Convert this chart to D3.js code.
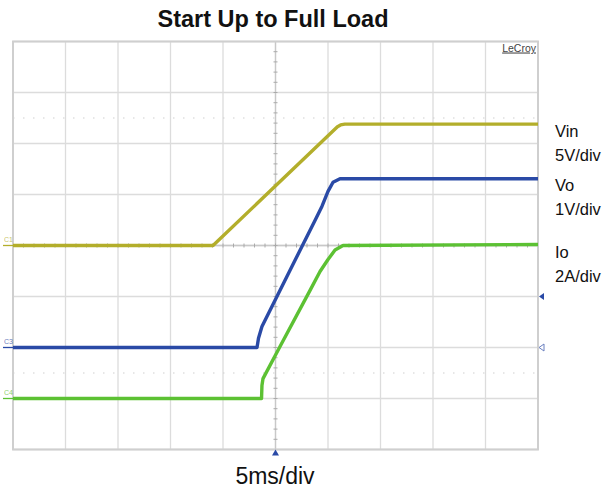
<!DOCTYPE html>
<html><head><meta charset="utf-8">
<script src="https://cdn.jsdelivr.net/npm/d3@7"></script>
<style>body{margin:0;background:#fff;}svg{display:block;font-family:"Liberation Sans",Arial,sans-serif;}</style>
</head><body>
<script>
// time in ms (5 ms/div, 10 div, trigger at centre)
const vinT = [-25, -5.95, 5.55, 5.9, 6.2, 6.6, 25];
const vinV = [0, 0, 11.3, 11.65, 11.82, 11.9, 11.9];      // V, 5 V/div, offset 0 div
const voT  = [-25, -1.76, -1.62, -1.29, 1.86, 3.76, 4.43, 5.0, 5.48, 6.14, 25];
const voV  = [0, 0, 0.18, 0.41, 1.71, 2.49, 2.77, 3.06, 3.24, 3.31, 3.31]; // V, 1 V/div, offset -2 div
const ioT  = [-25, -1.33, -1.29, -1.19, 0.43, 3.29, 4.24, 5.0, 5.67, 6.43, 25];
const ioA  = [0, 0, 0.51, 0.78, 2.04, 4.24, 4.98, 5.45, 5.82, 6.0, 6.04];  // A, 2 A/div, offset -3 div
const traces = [
  {name:"Vin", unit:"5V/div", perDiv:5, offset:0,  t:vinT, v:vinV, color:"#b3ae2b", tag:"C1"},
  {name:"Vo",  unit:"1V/div", perDiv:1, offset:-2, t:voT,  v:voV,  color:"#2a4aa6", tag:"C3"},
  {name:"Io",  unit:"2A/div", perDiv:2, offset:-3, t:ioT,  v:ioA,  color:"#5cc133", tag:"C4"}
];
const labelDivs = [2.12, 1.06, -0.24]; // label positions in divisions

const W = 607, H = 492;
const L = 13, R = 538, T = 41.5, B = 449.5;
const svg = d3.select("body").append("svg").attr("width", W).attr("height", H);
const x = d3.scaleLinear().domain([-25, 25]).range([L, R]);
const y = d3.scaleLinear().domain([-4, 4]).range([B, T]);

// grid
const g = svg.append("g");
d3.range(-25, 26, 5).forEach(t => g.append("line").attr("x1", x(t)).attr("x2", x(t)).attr("y1", T).attr("y2", B)
  .attr("stroke", "#dcdcdc").attr("stroke-width", 1.3));
d3.range(-4, 5, 1).forEach(d => g.append("line").attr("x1", L).attr("x2", R).attr("y1", y(d)).attr("y2", y(d))
  .attr("stroke", "#dcdcdc").attr("stroke-width", 1.3));
// dotted lines
[2.5, -2.5].forEach(d => g.append("line").attr("x1", L).attr("x2", R).attr("y1", y(d)).attr("y2", y(d))
  .attr("stroke", "#cfcfcf").attr("stroke-width", 1.2).attr("stroke-dasharray", "1.5,8.5"));
// centre axes with minor ticks
g.append("line").attr("x1", x(0)).attr("x2", x(0)).attr("y1", T).attr("y2", B).attr("stroke", "#c8c8c8").attr("stroke-width", 1.3);
g.append("line").attr("x1", L).attr("x2", R).attr("y1", y(0)).attr("y2", y(0)).attr("stroke", "#c8c8c8").attr("stroke-width", 1.3);
d3.range(-25, 25.01, 1).forEach(t => g.append("line").attr("x1", x(t)).attr("x2", x(t)).attr("y1", y(0) - 2).attr("y2", y(0) + 2).attr("stroke", "#aaa"));
d3.range(-4, 4.01, 0.2).forEach(d => g.append("line").attr("x1", x(0) - 2).attr("x2", x(0) + 2).attr("y1", y(d)).attr("y2", y(d)).attr("stroke", "#aaa"));
// border
g.append("rect").attr("x", L).attr("y", T).attr("width", R - L).attr("height", B - T)
  .attr("fill", "none").attr("stroke", "#cfcfcf").attr("stroke-width", 2);

// traces
traces.forEach(tr => {
  const pts = tr.t.map((t, i) => [t, tr.v[i] / tr.perDiv + tr.offset]);
  svg.append("path").datum(pts)
    .attr("d", d3.line().x(d => x(d[0])).y(d => y(d[1])))
    .attr("fill", "none").attr("stroke", tr.color).attr("stroke-width", 3.4).attr("stroke-linejoin", "round");
  // ground markers
  svg.append("text").attr("x", 4).attr("y", y(tr.offset) - 4).attr("font-size", 7).attr("fill", tr.color).attr("opacity", 0.7).text(tr.tag);
  svg.append("line").attr("x1", 3).attr("x2", L).attr("y1", y(tr.offset)).attr("y2", y(tr.offset)).attr("stroke", tr.color).attr("stroke-width", 1.3);
});

// right-side markers
svg.append("path").attr("d", `M${R + 1},${y(-1)} l5,-3.5 v7 z`).attr("fill", "#2a4aa6");
svg.append("path").attr("d", `M${R + 1},${y(-2)} l5,-3.5 v7 z`).attr("fill", "#fff").attr("stroke", "#6a80c0").attr("stroke-width", 1);
svg.append("path").attr("d", `M${x(0)},${B} l-3.5,6 h7 z`).attr("fill", "#2a4aa6");

// LeCroy tag
svg.append("text").attr("x", R - 2).attr("y", T + 10).attr("text-anchor", "end").attr("font-size", 10.5)
  .attr("fill", "#444").attr("text-decoration", "underline").text("LeCroy");

// labels
traces.forEach((tr, i) => {
  const yy = y(labelDivs[i]);
  svg.append("text").attr("x", 555).attr("y", yy).attr("font-size", 16.5).attr("fill", "#111").text(tr.name);
  svg.append("text").attr("x", 555).attr("y", yy + 24).attr("font-size", 16.5).attr("fill", "#111").text(tr.unit);
});

svg.append("text").attr("x", 273).attr("y", 27).attr("text-anchor", "middle").attr("font-size", 23.5)
  .attr("font-weight", "bold").attr("fill", "#111").text("Start Up to Full Load");
svg.append("text").attr("x", 275).attr("y", 484).attr("text-anchor", "middle").attr("font-size", 23)
  .attr("fill", "#111").text("5ms/div");
</script>
</body></html>
